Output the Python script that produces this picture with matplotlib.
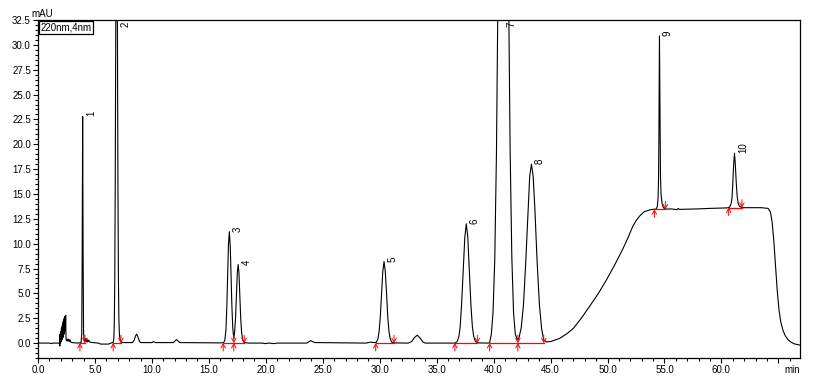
import numpy as np
import matplotlib.pyplot as plt
from matplotlib.ticker import MultipleLocator, FormatStrFormatter

plt.rcParams['font.family'] = ['Liberation Sans', 'DejaVu Sans']

trace_start = [
    [0.00, 0.00], [1.00, 0.00], [1.20, -0.05], [1.30, 0.00], [1.88, 0.00],
    [1.92, -0.30], [1.94, 0.90], [1.96, 0.00], [1.98, 1.10], [2.00, 0.10],
    [2.02, 1.20], [2.04, 0.20], [2.06, 1.50], [2.08, 0.30], [2.10, 1.60],
    [2.12, 0.40], [2.14, 1.80], [2.16, 0.50], [2.18, 2.00], [2.20, 0.60],
    [2.22, 2.20], [2.24, 0.80], [2.26, 2.30], [2.28, 0.90], [2.30, 2.50],
    [2.32, 1.00], [2.34, 2.60], [2.36, 1.20], [2.38, 2.70], [2.40, 1.40],
    [2.43, 2.80], [2.46, 0.50], [2.50, 0.25],
    [2.56, 0.40], [2.62, 0.20], [2.68, 0.40], [2.74, 0.15], [2.80, 0.35],
    [2.88, 0.10], [3.00, 0.05], [3.50, 0.00],
]
trace_peak1_2 = [
    [3.78, 0.05], [3.84, 0.90], [3.88, 9.00], [3.92, 22.80], [3.96, 9.00],
    [4.00, 1.00], [4.06, 0.20], [4.12, 0.10], [4.18, 0.45], [4.24, 0.15],
    [4.30, 0.40], [4.36, 0.10], [4.45, 0.30], [4.55, 0.10], [4.80, 0.05],
    [5.30, 0.00], [5.50, -0.10], [6.20, -0.10], [6.40, 0.00], [6.55, 0.05],
    [6.60, 0.05], [6.66, 0.50], [6.70, 2.10], [6.74, 6.50], [6.78, 15.60],
    [6.82, 29.10], [6.86, 43.00], [6.90, 48.00], [6.94, 43.00], [6.98, 29.10],
    [7.02, 15.60], [7.06, 6.50], [7.10, 2.40], [7.15, 0.80], [7.22, 0.30],
    [7.30, 0.10], [7.50, 0.05],
]
trace_small = [
    [8.30, 0.05], [8.45, 0.30], [8.55, 0.70], [8.66, 0.90], [8.78, 0.60],
    [8.90, 0.20], [9.00, 0.05], [10.00, 0.05], [10.15, 0.15], [10.30, 0.05],
    [11.90, 0.05], [12.05, 0.25], [12.17, 0.35], [12.30, 0.20], [12.45, 0.05],
    [16.00, 0.02],
]
trace_peak3_4 = [
    [16.30, 0.05], [16.40, 0.30], [16.50, 1.30], [16.58, 3.70], [16.65, 6.80],
    [16.72, 9.90], [16.80, 11.20], [16.88, 9.70], [16.95, 6.80], [17.02, 3.80],
    [17.10, 1.50], [17.19, 0.45], [17.27, 1.20], [17.35, 2.70], [17.42, 4.80],
    [17.50, 7.10], [17.57, 7.90], [17.64, 7.10], [17.72, 4.80], [17.80, 2.40],
    [17.88, 1.00], [17.97, 0.30], [18.10, 0.05], [18.50, 0.00], [19.70, 0.00],
    [19.90, -0.05], [20.30, 0.00], [20.70, -0.05], [21.00, 0.00], [23.60, 0.00],
    [23.80, 0.15], [23.95, 0.25], [24.10, 0.15], [24.30, 0.05], [24.60, 0.05],
    [28.80, 0.00], [29.20, 0.10], [29.50, 0.05],
]
trace_peak5_6 = [
    [29.70, 0.07], [29.85, 0.45], [29.95, 1.20], [30.05, 2.60], [30.16, 5.00],
    [30.27, 7.20], [30.38, 8.20], [30.49, 7.20], [30.60, 5.00], [30.71, 2.60],
    [30.81, 1.20], [30.92, 0.45], [31.05, 0.10], [31.25, 0.02], [32.50, 0.00],
    [32.80, 0.15], [33.05, 0.55], [33.30, 0.80], [33.55, 0.50], [33.80, 0.10],
    [34.00, 0.00], [36.60, 0.00], [36.80, 0.15], [36.95, 0.65], [37.06, 1.60],
    [37.19, 3.90], [37.33, 7.30], [37.47, 10.60], [37.60, 12.00], [37.73, 10.70],
    [37.87, 7.30], [38.01, 3.80], [38.14, 1.60], [38.25, 0.70], [38.40, 0.15],
    [38.60, 0.02], [39.50, 0.00], [39.65, 0.02],
]
trace_peak7_8 = [
    [39.80, 0.90], [39.95, 3.10], [40.10, 8.30], [40.25, 19.10], [40.40, 37.40],
    [40.55, 58.70], [40.70, 77.70], [40.85, 85.00], [41.00, 77.50], [41.15, 58.90],
    [41.30, 37.40], [41.45, 19.50], [41.60, 8.60], [41.75, 3.10], [41.90, 0.95],
    [42.05, 0.40], [42.13, 0.35], [42.22, 0.50], [42.42, 1.50], [42.62, 3.80],
    [42.82, 8.10], [43.02, 13.00], [43.17, 16.80], [43.32, 18.00], [43.47, 16.80],
    [43.62, 13.60], [43.82, 8.20], [44.02, 3.90], [44.22, 1.40], [44.40, 0.30],
]
trace_gradient = [
    [44.60, 0.12], [45.00, 0.15], [45.80, 0.47], [46.50, 1.00], [47.00, 1.48],
    [47.70, 2.50], [48.40, 3.65], [49.20, 5.00], [49.90, 6.34], [50.60, 7.80],
    [51.30, 9.36], [51.80, 10.60], [52.20, 11.70], [52.50, 12.30], [52.80, 12.75],
    [53.20, 13.20], [53.70, 13.40], [54.00, 13.45], [54.30, 13.50],
]
trace_peak9_10 = [
    [54.38, 13.80], [54.44, 14.60], [54.48, 16.50], [54.51, 20.50], [54.53, 25.50],
    [54.56, 30.90], [54.59, 26.00], [54.62, 20.00], [54.65, 16.80], [54.70, 15.00],
    [54.78, 14.10], [54.88, 13.70], [55.00, 13.50], [55.30, 13.48], [55.60, 13.50],
    [56.10, 13.42], [56.20, 13.55], [56.30, 13.45], [58.00, 13.50], [59.00, 13.55],
    [60.50, 13.60], [60.70, 13.65], [60.85, 14.00], [60.93, 14.60], [61.00, 16.00],
    [61.07, 17.90], [61.15, 19.10], [61.22, 18.00], [61.30, 16.20], [61.38, 14.80],
    [61.48, 14.00], [61.60, 13.75], [61.80, 13.62], [62.50, 13.62], [63.50, 13.62],
    [64.10, 13.55],
]
trace_end = [
    [64.30, 13.20], [64.45, 12.20], [64.60, 10.30], [64.75, 7.80], [64.90, 5.30],
    [65.05, 3.40], [65.20, 2.20], [65.40, 1.30], [65.60, 0.75], [65.85, 0.35],
    [66.10, 0.10], [66.40, -0.08], [66.90, -0.20],
]

# peak table
peak_no = [1, 2, 3, 4, 5, 6, 7, 8, 9, 10]
peak_rt = [3.92, 6.90, 16.80, 17.57, 30.38, 37.60, 40.85, 43.32, 54.56, 61.15]
peak_top = [22.8, 48.0, 11.2, 7.9, 8.2, 12.0, 85.0, 18.0, 30.9, 19.1]

# integration marks (start, end, baseline level)
int_start = [3.68, 6.60, 16.26, 17.19, 29.65, 36.60, 39.65, 42.13, 54.12, 60.64]
int_end = [4.12, 7.28, 17.19, 18.10, 31.26, 38.57, 42.13, 44.40, 55.08, 61.80]
int_base = [0, 0, 0, 0, 0, 0, 0, 0, 13.45, 13.62]

trace = np.array(trace_start + trace_peak1_2 + trace_small + trace_peak3_4
                 + trace_peak5_6 + trace_peak7_8 + trace_gradient
                 + trace_peak9_10 + trace_end)

fig = plt.figure(figsize=(8.19, 3.9), dpi=100)
ax = fig.add_axes([38 / 819, 32 / 390, 762 / 819, 338 / 390])

ax.plot(trace[:, 0], trace[:, 1], color='black', lw=0.8)

arrow = dict(arrowstyle='->,head_length=0.28,head_width=0.16',
             color='red', lw=0.7, shrinkA=0, shrinkB=0)
for s, e, b in zip(int_start, int_end, int_base):
    ax.plot([s, e], [b, b], color='red', lw=0.9, zorder=3)
    ax.annotate('', xy=(s, b), xytext=(s, b - 0.8), arrowprops=arrow, zorder=4)
    ax.annotate('', xy=(e, b), xytext=(e, b + 0.8), arrowprops=arrow, zorder=4)

ymax = 32.5
for n, rt, h in zip(peak_no, peak_rt, peak_top):
    if h > ymax:
        ax.annotate(str(n), xy=(rt, ymax), xytext=(2.5, -1), textcoords='offset points',
                    rotation=90, ha='left', va='top', fontsize=7)
    else:
        ax.annotate(str(n), xy=(rt, h), xytext=(2.5, 0), textcoords='offset points',
                    rotation=90, ha='left', va='bottom', fontsize=7)

ax.set_xlim(0, 66.9)
ax.set_ylim(-1.5, ymax)

ax.set_xticks(np.arange(0, 66, 5))
ax.set_xticklabels(['%.1f' % v for v in np.arange(0, 61, 5)] + [''])
ax.xaxis.set_minor_locator(MultipleLocator(1))
ax.set_yticks(np.arange(0, 32.6, 2.5))
ax.yaxis.set_major_formatter(FormatStrFormatter('%.1f'))
ax.yaxis.set_minor_locator(MultipleLocator(0.5))
ax.tick_params(which='major', length=3.6, width=0.8, labelsize=7, pad=1.5)
ax.tick_params(which='minor', length=2.2, width=0.8)
for sp in ax.spines.values():
    sp.set_linewidth(0.9)

ax.annotate('220nm,4nm', xy=(0, 1), xycoords='axes fraction', xytext=(2, -1.5),
            textcoords='offset points', ha='left', va='top', fontsize=7,
            bbox=dict(boxstyle='square,pad=0.15', fc='white', ec='black', lw=0.9))
fig.text(42 / 819, 1 - 14 / 390, 'mAU', ha='center', va='center', fontsize=7)
fig.text(800 / 819, 1 - 370 / 390, 'min', ha='right', va='center', fontsize=7)

fig.savefig('out.png', dpi=100)
